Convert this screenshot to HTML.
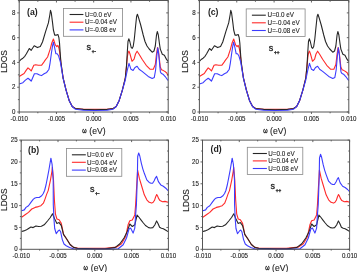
<!DOCTYPE html>
<html><head><meta charset="utf-8"><style>html,body{margin:0;padding:0;background:#fff;width:357px;height:272px;overflow:hidden}svg{display:block;will-change:transform}</style></head>
<body>
<svg width="357" height="272" viewBox="0 0 357 272">
<style>.t{font-family:"Liberation Sans", sans-serif;font-size:7px;fill:#222;stroke:#222;stroke-width:0.12px} .lg{font-family:"Liberation Sans", sans-serif;font-size:6.3px;fill:#222;stroke:#222;stroke-width:0.1px} .lb{font-family:"Liberation Sans", sans-serif;font-size:8px;fill:#222;stroke:#222;stroke-width:0.15px} .bl{font-family:"Liberation Sans", sans-serif;font-size:8.7px;font-weight:bold;fill:#222}</style>
<rect width="357" height="272" fill="#fff"/>
<polyline points="19.20,76.50 21.60,75.00 24.10,73.50 26.10,70.40 28.00,67.90 29.60,69.20 31.20,71.00 33.80,65.30 35.70,64.70 38.30,65.30 41.50,65.30 43.50,62.70 45.00,60.40 47.60,57.00 50.10,49.30 51.80,43.00 53.40,39.00 55.30,44.80 56.80,46.70 57.90,45.40 58.90,48.00 59.80,53.20 61.10,64.70 63.20,78.20 66.20,90.30 69.20,100.40 72.30,106.50 75.30,108.50 83.30,109.20 95.00,109.40 107.10,109.20 113.20,108.50 116.20,106.50 119.20,100.40 122.30,90.30 125.30,78.20 126.50,66.00 127.50,56.00 128.30,52.00 129.00,51.20 130.00,54.00 132.00,61.30 134.10,59.20 135.50,54.00 137.10,51.20 139.10,54.20 142.10,59.20 146.20,65.30 150.20,69.30 153.30,69.30 155.30,64.50 156.50,54.00 157.50,47.50 158.60,52.00 159.50,60.00 160.30,67.00 161.50,69.80 163.40,70.60 165.40,71.80 166.80,73.00 168.00,75.40" fill="none" stroke="#ff2a2a" stroke-width="1.1" stroke-linejoin="round"/>
<polyline points="19.20,61.50 20.90,59.50 22.90,58.20 24.80,56.30 26.40,53.80 29.30,48.50 31.20,50.30 34.20,45.80 37.40,47.60 40.30,46.50 42.50,42.00 45.50,31.80 48.40,22.90 49.90,14.50 50.50,10.30 51.30,13.00 52.60,23.10 53.40,30.00 54.70,35.10 56.60,35.10 57.90,34.50 58.90,37.70 59.50,42.90 60.40,55.70 60.90,62.00 63.10,78.20 66.10,90.30 69.10,100.40 72.20,106.50 75.20,108.50 83.30,109.40 95.00,109.70 107.10,109.40 113.20,108.50 116.20,106.50 119.20,100.40 122.30,90.30 125.30,78.20 126.50,66.00 127.30,52.00 128.00,41.50 128.80,38.80 129.80,41.50 131.20,47.50 132.20,48.30 133.20,46.50 134.30,39.00 135.50,27.00 136.60,16.50 137.40,14.30 138.40,17.20 140.70,25.00 143.20,35.00 145.00,41.50 147.00,46.00 149.20,49.00 152.20,52.20 154.00,51.00 155.30,46.00 156.50,35.00 157.30,31.50 158.30,35.00 159.50,44.00 160.30,49.10 162.30,54.20 164.40,55.20 166.40,59.20 168.00,61.30" fill="none" stroke="#262626" stroke-width="1.1" stroke-linejoin="round"/>
<polyline points="19.20,84.00 22.90,82.70 25.40,80.10 28.00,78.20 29.60,79.50 31.20,81.20 34.40,73.70 37.00,73.70 39.60,75.00 41.50,75.60 44.10,73.70 46.70,72.40 49.00,69.20 50.10,62.80 51.40,53.20 52.50,46.00 53.40,42.20 54.70,48.00 55.90,53.80 57.20,53.80 58.50,55.70 60.40,62.20 63.10,78.20 66.10,90.30 69.10,100.40 72.20,106.50 75.20,109.20 83.30,110.20 95.00,110.50 107.10,110.20 113.20,109.20 116.20,106.50 119.20,100.40 122.30,90.30 125.30,80.00 127.30,70.10 129.00,63.30 131.00,69.30 133.10,70.40 135.00,67.50 137.10,66.30 139.10,69.30 142.10,71.40 148.20,76.40 152.20,78.40 154.30,77.40 155.60,70.00 156.80,56.00 157.80,47.80 158.80,55.00 159.80,66.00 160.40,72.00 161.50,73.60 163.40,74.60 165.40,76.80 168.00,80.50" fill="none" stroke="#3c3cff" stroke-width="1.1" stroke-linejoin="round"/>
<polyline points="199.40,76.50 201.81,75.00 204.31,73.50 206.32,70.40 208.22,67.90 209.83,69.20 211.43,71.00 214.04,65.30 215.94,64.70 218.55,65.30 221.76,65.30 223.77,62.70 225.27,60.40 227.88,57.00 230.38,49.30 232.09,43.00 233.69,39.00 235.60,44.80 237.10,46.70 238.20,45.40 239.21,48.00 240.11,53.20 241.41,64.70 243.52,78.20 246.53,90.30 249.53,100.40 252.64,106.50 255.65,108.50 263.67,109.20 275.40,109.40 287.54,109.20 293.65,108.50 296.66,106.50 299.67,100.40 302.78,90.30 305.78,78.20 306.99,66.00 307.99,56.00 308.79,52.00 309.49,51.20 310.50,54.00 312.50,61.30 314.61,59.20 316.01,54.00 317.62,51.20 319.62,54.20 322.63,59.20 326.74,65.30 330.75,69.30 333.86,69.30 335.87,64.50 337.07,54.00 338.07,47.50 339.17,52.00 340.08,60.00 340.88,67.00 342.08,69.80 343.99,70.60 345.99,71.80 347.40,73.00 348.60,75.40" fill="none" stroke="#ff2a2a" stroke-width="1.1" stroke-linejoin="round"/>
<polyline points="199.40,61.50 201.10,59.50 203.11,58.20 205.02,56.30 206.62,53.80 209.53,48.50 211.43,50.30 214.44,45.80 217.65,47.60 220.56,46.50 222.76,42.00 225.77,31.80 228.68,22.90 230.18,14.50 230.78,10.30 231.59,13.00 232.89,23.10 233.69,30.00 235.00,35.10 236.90,35.10 238.20,34.50 239.21,37.70 239.81,42.90 240.71,55.70 241.21,62.00 243.42,78.20 246.43,90.30 249.43,100.40 252.54,106.50 255.55,108.50 263.67,109.40 275.40,109.70 287.54,109.40 293.65,108.50 296.66,106.50 299.67,100.40 302.78,90.30 305.78,78.20 306.99,66.00 307.79,52.00 308.49,41.50 309.29,38.80 310.30,41.50 311.70,47.50 312.70,48.30 313.71,46.50 314.81,39.00 316.01,27.00 317.12,16.50 317.92,14.30 318.92,17.20 321.23,25.00 323.73,35.00 325.54,41.50 327.54,46.00 329.75,49.00 332.76,52.20 334.56,51.00 335.87,46.00 337.07,35.00 337.87,31.50 338.87,35.00 340.08,44.00 340.88,49.10 342.88,54.20 344.99,55.20 347.00,59.20 348.60,61.30" fill="none" stroke="#262626" stroke-width="1.1" stroke-linejoin="round"/>
<polyline points="199.40,84.00 203.11,82.70 205.62,80.10 208.22,78.20 209.83,79.50 211.43,81.20 214.64,73.70 217.25,73.70 219.85,75.00 221.76,75.60 224.37,73.70 226.97,72.40 229.28,69.20 230.38,62.80 231.69,53.20 232.79,46.00 233.69,42.20 235.00,48.00 236.20,53.80 237.50,53.80 238.81,55.70 240.71,62.20 243.42,78.20 246.43,90.30 249.43,100.40 252.54,106.50 255.55,109.20 263.67,110.20 275.40,110.50 287.54,110.20 293.65,109.20 296.66,106.50 299.67,100.40 302.78,90.30 305.78,80.00 307.79,70.10 309.49,63.30 311.50,69.30 313.61,70.40 315.51,67.50 317.62,66.30 319.62,69.30 322.63,71.40 328.75,76.40 332.76,78.40 334.86,77.40 336.17,70.00 337.37,56.00 338.37,47.80 339.37,55.00 340.38,66.00 340.98,72.00 342.08,73.60 343.99,74.60 345.99,76.80 348.60,80.50" fill="none" stroke="#3c3cff" stroke-width="1.1" stroke-linejoin="round"/>
<polyline points="21.60,217.30 25.10,214.80 28.50,212.40 31.80,209.00 35.10,207.40 38.40,206.60 40.90,205.70 43.40,203.20 45.00,199.10 46.70,194.10 48.20,190.60 50.40,180.30 51.90,171.50 52.40,167.20 53.50,180.00 54.40,200.00 55.40,213.80 56.90,219.00 59.10,219.70 61.30,223.40 62.80,230.70 63.50,234.40 66.50,238.80 70.10,244.50 73.50,247.40 77.40,248.10 95.00,248.40 105.00,248.40 116.60,247.10 121.50,243.80 125.70,236.40 128.10,224.80 129.80,220.70 132.30,219.90 134.80,214.90 135.60,205.00 137.10,178.50 137.60,170.00 139.30,178.20 141.80,186.50 144.30,194.80 146.80,199.80 149.20,202.30 151.70,203.10 153.20,202.20 154.50,200.30 155.60,197.00 156.70,194.50 157.60,196.00 158.40,198.10 160.00,200.60 162.50,201.80 165.00,201.40 168.00,202.30" fill="none" stroke="#ff2a2a" stroke-width="1.1" stroke-linejoin="round"/>
<polyline points="21.60,231.50 23.80,230.90 26.00,230.10 28.20,228.70 30.90,227.00 33.10,227.60 35.90,226.00 38.60,226.50 41.40,226.30 44.20,224.80 47.50,221.00 50.30,217.50 52.50,213.80 54.70,219.00 56.90,223.40 59.10,222.60 61.30,225.60 63.50,234.40 66.50,238.80 70.10,244.50 73.50,247.40 77.40,248.40 95.00,248.90 105.00,248.90 114.90,247.60 119.90,243.80 124.00,238.00 127.30,231.40 129.80,224.00 132.30,226.50 134.80,224.80 137.10,215.00 139.20,217.50 141.30,220.30 143.40,223.00 145.50,225.50 148.60,227.60 150.70,228.00 152.80,227.60 154.80,225.00 156.60,220.90 158.00,223.50 159.60,227.20 161.40,228.20 163.30,228.70 165.50,230.00 168.00,231.60" fill="none" stroke="#262626" stroke-width="1.1" stroke-linejoin="round"/>
<polyline points="21.60,210.70 24.30,209.90 26.00,207.40 28.50,205.70 30.90,202.40 33.40,199.10 35.00,198.00 36.70,197.50 39.20,197.50 41.70,195.80 43.30,193.50 44.60,190.50 46.00,185.00 47.50,177.40 48.90,170.00 50.90,158.20 52.10,164.40 53.20,180.00 53.30,205.00 54.00,219.70 54.70,228.50 56.20,233.70 58.40,230.70 59.50,230.00 60.60,231.70 62.30,239.60 64.00,244.00 66.20,245.70 69.60,247.40 74.00,249.00 95.00,249.30 110.00,249.30 118.20,248.80 123.20,244.70 126.50,238.00 129.00,229.00 130.60,228.10 133.10,233.10 134.80,228.10 135.60,214.90 136.40,205.00 137.40,175.00 137.70,156.50 138.70,153.00 139.80,156.00 141.30,163.10 142.80,168.80 144.30,173.30 146.80,179.90 149.20,182.40 151.00,183.20 152.60,183.20 154.20,180.70 155.50,177.80 156.60,176.30 157.50,179.00 158.40,181.60 160.80,184.90 163.30,186.20 165.80,188.20 168.00,190.70" fill="none" stroke="#3c3cff" stroke-width="1.1" stroke-linejoin="round"/>
<polyline points="202.90,217.30 206.40,214.80 209.80,212.40 213.09,209.00 216.39,207.40 219.69,206.60 222.19,205.70 224.68,203.20 226.28,199.10 227.98,194.10 229.48,190.60 231.68,180.30 233.18,171.50 233.68,167.20 234.78,180.00 235.68,200.00 236.68,213.80 238.18,219.00 240.37,219.70 242.57,223.40 244.07,230.70 244.77,234.40 247.77,238.80 251.37,244.50 254.76,247.40 258.66,248.10 276.25,248.40 286.39,248.40 298.33,247.10 303.33,243.80 307.53,236.40 309.93,224.80 311.63,220.70 314.12,219.90 316.62,214.90 317.42,205.00 318.92,178.50 319.42,170.00 321.12,178.20 323.62,186.50 326.12,194.80 328.61,199.80 331.01,202.30 333.51,203.10 335.01,202.20 336.31,200.30 337.41,197.00 338.51,194.50 339.41,196.00 340.21,198.10 341.81,200.60 344.30,201.80 346.80,201.40 349.80,202.30" fill="none" stroke="#ff2a2a" stroke-width="1.1" stroke-linejoin="round"/>
<polyline points="202.90,231.50 205.10,230.90 207.30,230.10 209.50,228.70 212.19,227.00 214.39,227.60 217.19,226.00 219.89,226.50 222.69,226.30 225.48,224.80 228.78,221.00 231.58,217.50 233.78,213.80 235.98,219.00 238.18,223.40 240.37,222.60 242.57,225.60 244.77,234.40 247.77,238.80 251.37,244.50 254.76,247.40 258.66,248.40 276.25,248.90 286.39,248.90 296.58,247.60 301.73,243.80 305.83,238.00 309.13,231.40 311.63,224.00 314.12,226.50 316.62,224.80 318.92,215.00 321.02,217.50 323.12,220.30 325.22,223.00 327.32,225.50 330.41,227.60 332.51,228.00 334.61,227.60 336.61,225.00 338.41,220.90 339.81,223.50 341.41,227.20 343.20,228.20 345.10,228.70 347.30,230.00 349.80,231.60" fill="none" stroke="#262626" stroke-width="1.1" stroke-linejoin="round"/>
<polyline points="202.90,210.70 205.60,209.90 207.30,207.40 209.80,205.70 212.19,202.40 214.69,199.10 216.29,198.00 217.99,197.50 220.49,197.50 222.99,195.80 224.58,193.50 225.88,190.50 227.28,185.00 228.78,177.40 230.18,170.00 232.18,158.20 233.38,164.40 234.48,180.00 234.58,205.00 235.28,219.70 235.98,228.50 237.48,233.70 239.67,230.70 240.77,230.00 241.87,231.70 243.57,239.60 245.27,244.00 247.47,245.70 250.87,247.40 255.26,249.00 276.25,249.30 291.54,249.30 299.98,248.80 305.03,244.70 308.33,238.00 310.83,229.00 312.43,228.10 314.92,233.10 316.62,228.10 317.42,214.90 318.22,205.00 319.22,176.30 319.52,157.80 320.52,154.30 321.62,157.30 323.12,164.40 324.62,170.10 326.12,174.60 328.61,181.20 331.01,183.70 332.81,184.50 334.41,184.50 336.01,182.00 337.31,179.10 338.41,177.60 339.31,180.30 340.21,182.90 342.60,186.20 345.10,187.50 347.60,189.50 349.80,192.00" fill="none" stroke="#3c3cff" stroke-width="1.1" stroke-linejoin="round"/>
<rect x="19.2" y="0.5" width="149.0" height="111.5" fill="none" stroke="#555555" stroke-width="1.0"/>
<line x1="19.20" y1="112.0" x2="19.20" y2="114.0" stroke="#555555" stroke-width="0.9"/>
<line x1="19.20" y1="0.5" x2="19.20" y2="2.5" stroke="#555555" stroke-width="0.9"/>
<line x1="37.83" y1="112.0" x2="37.83" y2="113.3" stroke="#555555" stroke-width="0.9"/>
<line x1="37.83" y1="0.5" x2="37.83" y2="1.8" stroke="#555555" stroke-width="0.9"/>
<line x1="56.45" y1="112.0" x2="56.45" y2="114.0" stroke="#555555" stroke-width="0.9"/>
<line x1="56.45" y1="0.5" x2="56.45" y2="2.5" stroke="#555555" stroke-width="0.9"/>
<line x1="75.08" y1="112.0" x2="75.08" y2="113.3" stroke="#555555" stroke-width="0.9"/>
<line x1="75.08" y1="0.5" x2="75.08" y2="1.8" stroke="#555555" stroke-width="0.9"/>
<line x1="93.70" y1="112.0" x2="93.70" y2="114.0" stroke="#555555" stroke-width="0.9"/>
<line x1="93.70" y1="0.5" x2="93.70" y2="2.5" stroke="#555555" stroke-width="0.9"/>
<line x1="112.33" y1="112.0" x2="112.33" y2="113.3" stroke="#555555" stroke-width="0.9"/>
<line x1="112.33" y1="0.5" x2="112.33" y2="1.8" stroke="#555555" stroke-width="0.9"/>
<line x1="130.95" y1="112.0" x2="130.95" y2="114.0" stroke="#555555" stroke-width="0.9"/>
<line x1="130.95" y1="0.5" x2="130.95" y2="2.5" stroke="#555555" stroke-width="0.9"/>
<line x1="149.57" y1="112.0" x2="149.57" y2="113.3" stroke="#555555" stroke-width="0.9"/>
<line x1="149.57" y1="0.5" x2="149.57" y2="1.8" stroke="#555555" stroke-width="0.9"/>
<line x1="168.20" y1="112.0" x2="168.20" y2="114.0" stroke="#555555" stroke-width="0.9"/>
<line x1="168.20" y1="0.5" x2="168.20" y2="2.5" stroke="#555555" stroke-width="0.9"/>
<line x1="17.2" y1="112.00" x2="19.2" y2="112.00" stroke="#555555" stroke-width="0.9"/>
<line x1="166.2" y1="112.00" x2="168.2" y2="112.00" stroke="#555555" stroke-width="0.9"/>
<line x1="17.9" y1="99.61" x2="19.2" y2="99.61" stroke="#555555" stroke-width="0.9"/>
<line x1="166.89999999999998" y1="99.61" x2="168.2" y2="99.61" stroke="#555555" stroke-width="0.9"/>
<line x1="17.2" y1="87.22" x2="19.2" y2="87.22" stroke="#555555" stroke-width="0.9"/>
<line x1="166.2" y1="87.22" x2="168.2" y2="87.22" stroke="#555555" stroke-width="0.9"/>
<line x1="17.9" y1="74.83" x2="19.2" y2="74.83" stroke="#555555" stroke-width="0.9"/>
<line x1="166.89999999999998" y1="74.83" x2="168.2" y2="74.83" stroke="#555555" stroke-width="0.9"/>
<line x1="17.2" y1="62.44" x2="19.2" y2="62.44" stroke="#555555" stroke-width="0.9"/>
<line x1="166.2" y1="62.44" x2="168.2" y2="62.44" stroke="#555555" stroke-width="0.9"/>
<line x1="17.9" y1="50.06" x2="19.2" y2="50.06" stroke="#555555" stroke-width="0.9"/>
<line x1="166.89999999999998" y1="50.06" x2="168.2" y2="50.06" stroke="#555555" stroke-width="0.9"/>
<line x1="17.2" y1="37.67" x2="19.2" y2="37.67" stroke="#555555" stroke-width="0.9"/>
<line x1="166.2" y1="37.67" x2="168.2" y2="37.67" stroke="#555555" stroke-width="0.9"/>
<line x1="17.9" y1="25.28" x2="19.2" y2="25.28" stroke="#555555" stroke-width="0.9"/>
<line x1="166.89999999999998" y1="25.28" x2="168.2" y2="25.28" stroke="#555555" stroke-width="0.9"/>
<line x1="17.2" y1="12.89" x2="19.2" y2="12.89" stroke="#555555" stroke-width="0.9"/>
<line x1="166.2" y1="12.89" x2="168.2" y2="12.89" stroke="#555555" stroke-width="0.9"/>
<line x1="17.9" y1="0.50" x2="19.2" y2="0.50" stroke="#555555" stroke-width="0.9"/>
<line x1="166.89999999999998" y1="0.50" x2="168.2" y2="0.50" stroke="#555555" stroke-width="0.9"/>
<rect x="199.4" y="0.5" width="149.4" height="111.5" fill="none" stroke="#555555" stroke-width="1.0"/>
<line x1="199.40" y1="112.0" x2="199.40" y2="114.0" stroke="#555555" stroke-width="0.9"/>
<line x1="199.40" y1="0.5" x2="199.40" y2="2.5" stroke="#555555" stroke-width="0.9"/>
<line x1="218.08" y1="112.0" x2="218.08" y2="113.3" stroke="#555555" stroke-width="0.9"/>
<line x1="218.08" y1="0.5" x2="218.08" y2="1.8" stroke="#555555" stroke-width="0.9"/>
<line x1="236.75" y1="112.0" x2="236.75" y2="114.0" stroke="#555555" stroke-width="0.9"/>
<line x1="236.75" y1="0.5" x2="236.75" y2="2.5" stroke="#555555" stroke-width="0.9"/>
<line x1="255.43" y1="112.0" x2="255.43" y2="113.3" stroke="#555555" stroke-width="0.9"/>
<line x1="255.43" y1="0.5" x2="255.43" y2="1.8" stroke="#555555" stroke-width="0.9"/>
<line x1="274.10" y1="112.0" x2="274.10" y2="114.0" stroke="#555555" stroke-width="0.9"/>
<line x1="274.10" y1="0.5" x2="274.10" y2="2.5" stroke="#555555" stroke-width="0.9"/>
<line x1="292.77" y1="112.0" x2="292.77" y2="113.3" stroke="#555555" stroke-width="0.9"/>
<line x1="292.77" y1="0.5" x2="292.77" y2="1.8" stroke="#555555" stroke-width="0.9"/>
<line x1="311.45" y1="112.0" x2="311.45" y2="114.0" stroke="#555555" stroke-width="0.9"/>
<line x1="311.45" y1="0.5" x2="311.45" y2="2.5" stroke="#555555" stroke-width="0.9"/>
<line x1="330.12" y1="112.0" x2="330.12" y2="113.3" stroke="#555555" stroke-width="0.9"/>
<line x1="330.12" y1="0.5" x2="330.12" y2="1.8" stroke="#555555" stroke-width="0.9"/>
<line x1="348.80" y1="112.0" x2="348.80" y2="114.0" stroke="#555555" stroke-width="0.9"/>
<line x1="348.80" y1="0.5" x2="348.80" y2="2.5" stroke="#555555" stroke-width="0.9"/>
<line x1="197.4" y1="112.00" x2="199.4" y2="112.00" stroke="#555555" stroke-width="0.9"/>
<line x1="346.8" y1="112.00" x2="348.8" y2="112.00" stroke="#555555" stroke-width="0.9"/>
<line x1="198.1" y1="99.61" x2="199.4" y2="99.61" stroke="#555555" stroke-width="0.9"/>
<line x1="347.5" y1="99.61" x2="348.8" y2="99.61" stroke="#555555" stroke-width="0.9"/>
<line x1="197.4" y1="87.22" x2="199.4" y2="87.22" stroke="#555555" stroke-width="0.9"/>
<line x1="346.8" y1="87.22" x2="348.8" y2="87.22" stroke="#555555" stroke-width="0.9"/>
<line x1="198.1" y1="74.83" x2="199.4" y2="74.83" stroke="#555555" stroke-width="0.9"/>
<line x1="347.5" y1="74.83" x2="348.8" y2="74.83" stroke="#555555" stroke-width="0.9"/>
<line x1="197.4" y1="62.44" x2="199.4" y2="62.44" stroke="#555555" stroke-width="0.9"/>
<line x1="346.8" y1="62.44" x2="348.8" y2="62.44" stroke="#555555" stroke-width="0.9"/>
<line x1="198.1" y1="50.06" x2="199.4" y2="50.06" stroke="#555555" stroke-width="0.9"/>
<line x1="347.5" y1="50.06" x2="348.8" y2="50.06" stroke="#555555" stroke-width="0.9"/>
<line x1="197.4" y1="37.67" x2="199.4" y2="37.67" stroke="#555555" stroke-width="0.9"/>
<line x1="346.8" y1="37.67" x2="348.8" y2="37.67" stroke="#555555" stroke-width="0.9"/>
<line x1="198.1" y1="25.28" x2="199.4" y2="25.28" stroke="#555555" stroke-width="0.9"/>
<line x1="347.5" y1="25.28" x2="348.8" y2="25.28" stroke="#555555" stroke-width="0.9"/>
<line x1="197.4" y1="12.89" x2="199.4" y2="12.89" stroke="#555555" stroke-width="0.9"/>
<line x1="346.8" y1="12.89" x2="348.8" y2="12.89" stroke="#555555" stroke-width="0.9"/>
<line x1="198.1" y1="0.50" x2="199.4" y2="0.50" stroke="#555555" stroke-width="0.9"/>
<line x1="347.5" y1="0.50" x2="348.8" y2="0.50" stroke="#555555" stroke-width="0.9"/>
<rect x="21.2" y="140.1" width="147.20000000000002" height="109.20000000000002" fill="none" stroke="#555555" stroke-width="1.0"/>
<line x1="21.20" y1="249.3" x2="21.20" y2="251.3" stroke="#555555" stroke-width="0.9"/>
<line x1="21.20" y1="140.1" x2="21.20" y2="142.1" stroke="#555555" stroke-width="0.9"/>
<line x1="39.60" y1="249.3" x2="39.60" y2="250.60000000000002" stroke="#555555" stroke-width="0.9"/>
<line x1="39.60" y1="140.1" x2="39.60" y2="141.4" stroke="#555555" stroke-width="0.9"/>
<line x1="58.00" y1="249.3" x2="58.00" y2="251.3" stroke="#555555" stroke-width="0.9"/>
<line x1="58.00" y1="140.1" x2="58.00" y2="142.1" stroke="#555555" stroke-width="0.9"/>
<line x1="76.40" y1="249.3" x2="76.40" y2="250.60000000000002" stroke="#555555" stroke-width="0.9"/>
<line x1="76.40" y1="140.1" x2="76.40" y2="141.4" stroke="#555555" stroke-width="0.9"/>
<line x1="94.80" y1="249.3" x2="94.80" y2="251.3" stroke="#555555" stroke-width="0.9"/>
<line x1="94.80" y1="140.1" x2="94.80" y2="142.1" stroke="#555555" stroke-width="0.9"/>
<line x1="113.20" y1="249.3" x2="113.20" y2="250.60000000000002" stroke="#555555" stroke-width="0.9"/>
<line x1="113.20" y1="140.1" x2="113.20" y2="141.4" stroke="#555555" stroke-width="0.9"/>
<line x1="131.60" y1="249.3" x2="131.60" y2="251.3" stroke="#555555" stroke-width="0.9"/>
<line x1="131.60" y1="140.1" x2="131.60" y2="142.1" stroke="#555555" stroke-width="0.9"/>
<line x1="150.00" y1="249.3" x2="150.00" y2="250.60000000000002" stroke="#555555" stroke-width="0.9"/>
<line x1="150.00" y1="140.1" x2="150.00" y2="141.4" stroke="#555555" stroke-width="0.9"/>
<line x1="168.40" y1="249.3" x2="168.40" y2="251.3" stroke="#555555" stroke-width="0.9"/>
<line x1="168.40" y1="140.1" x2="168.40" y2="142.1" stroke="#555555" stroke-width="0.9"/>
<line x1="19.2" y1="249.30" x2="21.2" y2="249.30" stroke="#555555" stroke-width="0.9"/>
<line x1="166.4" y1="249.30" x2="168.4" y2="249.30" stroke="#555555" stroke-width="0.9"/>
<line x1="19.9" y1="238.38" x2="21.2" y2="238.38" stroke="#555555" stroke-width="0.9"/>
<line x1="167.1" y1="238.38" x2="168.4" y2="238.38" stroke="#555555" stroke-width="0.9"/>
<line x1="19.2" y1="227.46" x2="21.2" y2="227.46" stroke="#555555" stroke-width="0.9"/>
<line x1="166.4" y1="227.46" x2="168.4" y2="227.46" stroke="#555555" stroke-width="0.9"/>
<line x1="19.9" y1="216.54" x2="21.2" y2="216.54" stroke="#555555" stroke-width="0.9"/>
<line x1="167.1" y1="216.54" x2="168.4" y2="216.54" stroke="#555555" stroke-width="0.9"/>
<line x1="19.2" y1="205.62" x2="21.2" y2="205.62" stroke="#555555" stroke-width="0.9"/>
<line x1="166.4" y1="205.62" x2="168.4" y2="205.62" stroke="#555555" stroke-width="0.9"/>
<line x1="19.9" y1="194.70" x2="21.2" y2="194.70" stroke="#555555" stroke-width="0.9"/>
<line x1="167.1" y1="194.70" x2="168.4" y2="194.70" stroke="#555555" stroke-width="0.9"/>
<line x1="19.2" y1="183.78" x2="21.2" y2="183.78" stroke="#555555" stroke-width="0.9"/>
<line x1="166.4" y1="183.78" x2="168.4" y2="183.78" stroke="#555555" stroke-width="0.9"/>
<line x1="19.9" y1="172.86" x2="21.2" y2="172.86" stroke="#555555" stroke-width="0.9"/>
<line x1="167.1" y1="172.86" x2="168.4" y2="172.86" stroke="#555555" stroke-width="0.9"/>
<line x1="19.2" y1="161.94" x2="21.2" y2="161.94" stroke="#555555" stroke-width="0.9"/>
<line x1="166.4" y1="161.94" x2="168.4" y2="161.94" stroke="#555555" stroke-width="0.9"/>
<line x1="19.9" y1="151.02" x2="21.2" y2="151.02" stroke="#555555" stroke-width="0.9"/>
<line x1="167.1" y1="151.02" x2="168.4" y2="151.02" stroke="#555555" stroke-width="0.9"/>
<line x1="19.2" y1="140.10" x2="21.2" y2="140.10" stroke="#555555" stroke-width="0.9"/>
<line x1="166.4" y1="140.10" x2="168.4" y2="140.10" stroke="#555555" stroke-width="0.9"/>
<rect x="202.5" y="140.1" width="147.10000000000002" height="109.20000000000002" fill="none" stroke="#555555" stroke-width="1.0"/>
<line x1="202.50" y1="249.3" x2="202.50" y2="251.3" stroke="#555555" stroke-width="0.9"/>
<line x1="202.50" y1="140.1" x2="202.50" y2="142.1" stroke="#555555" stroke-width="0.9"/>
<line x1="220.89" y1="249.3" x2="220.89" y2="250.60000000000002" stroke="#555555" stroke-width="0.9"/>
<line x1="220.89" y1="140.1" x2="220.89" y2="141.4" stroke="#555555" stroke-width="0.9"/>
<line x1="239.28" y1="249.3" x2="239.28" y2="251.3" stroke="#555555" stroke-width="0.9"/>
<line x1="239.28" y1="140.1" x2="239.28" y2="142.1" stroke="#555555" stroke-width="0.9"/>
<line x1="257.66" y1="249.3" x2="257.66" y2="250.60000000000002" stroke="#555555" stroke-width="0.9"/>
<line x1="257.66" y1="140.1" x2="257.66" y2="141.4" stroke="#555555" stroke-width="0.9"/>
<line x1="276.05" y1="249.3" x2="276.05" y2="251.3" stroke="#555555" stroke-width="0.9"/>
<line x1="276.05" y1="140.1" x2="276.05" y2="142.1" stroke="#555555" stroke-width="0.9"/>
<line x1="294.44" y1="249.3" x2="294.44" y2="250.60000000000002" stroke="#555555" stroke-width="0.9"/>
<line x1="294.44" y1="140.1" x2="294.44" y2="141.4" stroke="#555555" stroke-width="0.9"/>
<line x1="312.83" y1="249.3" x2="312.83" y2="251.3" stroke="#555555" stroke-width="0.9"/>
<line x1="312.83" y1="140.1" x2="312.83" y2="142.1" stroke="#555555" stroke-width="0.9"/>
<line x1="331.21" y1="249.3" x2="331.21" y2="250.60000000000002" stroke="#555555" stroke-width="0.9"/>
<line x1="331.21" y1="140.1" x2="331.21" y2="141.4" stroke="#555555" stroke-width="0.9"/>
<line x1="349.60" y1="249.3" x2="349.60" y2="251.3" stroke="#555555" stroke-width="0.9"/>
<line x1="349.60" y1="140.1" x2="349.60" y2="142.1" stroke="#555555" stroke-width="0.9"/>
<line x1="200.5" y1="249.30" x2="202.5" y2="249.30" stroke="#555555" stroke-width="0.9"/>
<line x1="347.6" y1="249.30" x2="349.6" y2="249.30" stroke="#555555" stroke-width="0.9"/>
<line x1="201.2" y1="238.38" x2="202.5" y2="238.38" stroke="#555555" stroke-width="0.9"/>
<line x1="348.3" y1="238.38" x2="349.6" y2="238.38" stroke="#555555" stroke-width="0.9"/>
<line x1="200.5" y1="227.46" x2="202.5" y2="227.46" stroke="#555555" stroke-width="0.9"/>
<line x1="347.6" y1="227.46" x2="349.6" y2="227.46" stroke="#555555" stroke-width="0.9"/>
<line x1="201.2" y1="216.54" x2="202.5" y2="216.54" stroke="#555555" stroke-width="0.9"/>
<line x1="348.3" y1="216.54" x2="349.6" y2="216.54" stroke="#555555" stroke-width="0.9"/>
<line x1="200.5" y1="205.62" x2="202.5" y2="205.62" stroke="#555555" stroke-width="0.9"/>
<line x1="347.6" y1="205.62" x2="349.6" y2="205.62" stroke="#555555" stroke-width="0.9"/>
<line x1="201.2" y1="194.70" x2="202.5" y2="194.70" stroke="#555555" stroke-width="0.9"/>
<line x1="348.3" y1="194.70" x2="349.6" y2="194.70" stroke="#555555" stroke-width="0.9"/>
<line x1="200.5" y1="183.78" x2="202.5" y2="183.78" stroke="#555555" stroke-width="0.9"/>
<line x1="347.6" y1="183.78" x2="349.6" y2="183.78" stroke="#555555" stroke-width="0.9"/>
<line x1="201.2" y1="172.86" x2="202.5" y2="172.86" stroke="#555555" stroke-width="0.9"/>
<line x1="348.3" y1="172.86" x2="349.6" y2="172.86" stroke="#555555" stroke-width="0.9"/>
<line x1="200.5" y1="161.94" x2="202.5" y2="161.94" stroke="#555555" stroke-width="0.9"/>
<line x1="347.6" y1="161.94" x2="349.6" y2="161.94" stroke="#555555" stroke-width="0.9"/>
<line x1="201.2" y1="151.02" x2="202.5" y2="151.02" stroke="#555555" stroke-width="0.9"/>
<line x1="348.3" y1="151.02" x2="349.6" y2="151.02" stroke="#555555" stroke-width="0.9"/>
<line x1="200.5" y1="140.10" x2="202.5" y2="140.10" stroke="#555555" stroke-width="0.9"/>
<line x1="347.6" y1="140.10" x2="349.6" y2="140.10" stroke="#555555" stroke-width="0.9"/>
<text transform="translate(15.5,114.10) scale(0.88,1)" text-anchor="end" class="t">0</text>
<text transform="translate(15.5,89.32) scale(0.88,1)" text-anchor="end" class="t">2</text>
<text transform="translate(15.5,64.54) scale(0.88,1)" text-anchor="end" class="t">4</text>
<text transform="translate(15.5,39.77) scale(0.88,1)" text-anchor="end" class="t">6</text>
<text transform="translate(15.5,14.99) scale(0.88,1)" text-anchor="end" class="t">8</text>
<text transform="translate(195.7,114.10) scale(0.88,1)" text-anchor="end" class="t">0</text>
<text transform="translate(195.7,89.32) scale(0.88,1)" text-anchor="end" class="t">2</text>
<text transform="translate(195.7,64.54) scale(0.88,1)" text-anchor="end" class="t">4</text>
<text transform="translate(195.7,39.77) scale(0.88,1)" text-anchor="end" class="t">6</text>
<text transform="translate(195.7,14.99) scale(0.88,1)" text-anchor="end" class="t">8</text>
<text transform="translate(17.7,251.40) scale(0.88,1)" text-anchor="end" class="t">0</text>
<text transform="translate(17.7,229.56) scale(0.88,1)" text-anchor="end" class="t">5</text>
<text transform="translate(17.7,207.72) scale(0.88,1)" text-anchor="end" class="t">10</text>
<text transform="translate(17.7,185.88) scale(0.88,1)" text-anchor="end" class="t">15</text>
<text transform="translate(17.7,164.04) scale(0.88,1)" text-anchor="end" class="t">20</text>
<text transform="translate(17.7,142.20) scale(0.88,1)" text-anchor="end" class="t">25</text>
<text transform="translate(198.9,251.40) scale(0.88,1)" text-anchor="end" class="t">0</text>
<text transform="translate(198.9,229.56) scale(0.88,1)" text-anchor="end" class="t">5</text>
<text transform="translate(198.9,207.72) scale(0.88,1)" text-anchor="end" class="t">10</text>
<text transform="translate(198.9,185.88) scale(0.88,1)" text-anchor="end" class="t">15</text>
<text transform="translate(198.9,164.04) scale(0.88,1)" text-anchor="end" class="t">20</text>
<text transform="translate(198.9,142.20) scale(0.88,1)" text-anchor="end" class="t">25</text>
<text transform="translate(19.20,120.5) scale(0.88,1)" text-anchor="middle" class="t">-0.010</text>
<text transform="translate(56.45,120.5) scale(0.88,1)" text-anchor="middle" class="t">-0.005</text>
<text transform="translate(93.70,120.5) scale(0.88,1)" text-anchor="middle" class="t">0.000</text>
<text transform="translate(130.95,120.5) scale(0.88,1)" text-anchor="middle" class="t">0.005</text>
<text transform="translate(168.20,120.5) scale(0.88,1)" text-anchor="middle" class="t">0.010</text>
<text transform="translate(199.40,120.5) scale(0.88,1)" text-anchor="middle" class="t">-0.010</text>
<text transform="translate(236.75,120.5) scale(0.88,1)" text-anchor="middle" class="t">-0.005</text>
<text transform="translate(274.10,120.5) scale(0.88,1)" text-anchor="middle" class="t">0.000</text>
<text transform="translate(311.45,120.5) scale(0.88,1)" text-anchor="middle" class="t">0.005</text>
<text transform="translate(348.80,120.5) scale(0.88,1)" text-anchor="middle" class="t">0.010</text>
<text transform="translate(21.20,257.9) scale(0.88,1)" text-anchor="middle" class="t">-0.010</text>
<text transform="translate(58.00,257.9) scale(0.88,1)" text-anchor="middle" class="t">-0.005</text>
<text transform="translate(94.80,257.9) scale(0.88,1)" text-anchor="middle" class="t">0.000</text>
<text transform="translate(131.60,257.9) scale(0.88,1)" text-anchor="middle" class="t">0.005</text>
<text transform="translate(168.40,257.9) scale(0.88,1)" text-anchor="middle" class="t">0.010</text>
<text transform="translate(202.50,257.9) scale(0.88,1)" text-anchor="middle" class="t">-0.010</text>
<text transform="translate(239.28,257.9) scale(0.88,1)" text-anchor="middle" class="t">-0.005</text>
<text transform="translate(276.05,257.9) scale(0.88,1)" text-anchor="middle" class="t">0.000</text>
<text transform="translate(312.83,257.9) scale(0.88,1)" text-anchor="middle" class="t">0.005</text>
<text transform="translate(349.60,257.9) scale(0.88,1)" text-anchor="middle" class="t">0.010</text>
<text transform="translate(82.14999999999999,133.4) scale(0.9,1.15)" class="lb" style="font-size:6.2px;stroke:#222;stroke-width:0.3px">ω</text><text x="89.30000000000001" y="133.7" class="lb" style="font-size:8.6px;stroke:#222;stroke-width:0.12px">(eV)</text>
<text transform="translate(263.15000000000003,133.4) scale(0.9,1.15)" class="lb" style="font-size:6.2px;stroke:#222;stroke-width:0.3px">ω</text><text x="270.09999999999997" y="133.7" class="lb" style="font-size:8.6px;stroke:#222;stroke-width:0.12px">(eV)</text>
<text transform="translate(83.55,270.3) scale(0.9,1.15)" class="lb" style="font-size:6.2px;stroke:#222;stroke-width:0.3px">ω</text><text x="90.80000000000001" y="270.6" class="lb" style="font-size:8.6px;stroke:#222;stroke-width:0.12px">(eV)</text>
<text transform="translate(265.15000000000003,270.3) scale(0.9,1.15)" class="lb" style="font-size:6.2px;stroke:#222;stroke-width:0.3px">ω</text><text x="272.09999999999997" y="270.6" class="lb" style="font-size:8.6px;stroke:#222;stroke-width:0.12px">(eV)</text>
<text x="7.1" y="61.5" transform="rotate(-90 7.1 61.5)" text-anchor="middle" class="lb" style="font-size:8.3px">LDOS</text>
<text x="188.1" y="61.5" transform="rotate(-90 188.1 61.5)" text-anchor="middle" class="lb" style="font-size:8.3px">LDOS</text>
<text x="7.3" y="199.7" transform="rotate(-90 7.3 199.7)" text-anchor="middle" class="lb" style="font-size:8.3px">LDOS</text>
<text x="188.7" y="200.4" transform="rotate(-90 188.7 200.4)" text-anchor="middle" class="lb" style="font-size:8.3px">LDOS</text>
<rect x="63.5" y="8.4" width="59.099999999999994" height="27.9" fill="#fff" stroke="#888" stroke-width="0.8"/>
<line x1="69.6" y1="14.5" x2="83.4" y2="14.5" stroke="#262626" stroke-width="1.1"/>
<text x="85.0" y="16.70" class="lg">U=0.0 eV</text>
<line x1="69.6" y1="22.2" x2="83.4" y2="22.2" stroke="#ff2a2a" stroke-width="1.1"/>
<text x="85.0" y="24.40" class="lg">U=-0.04 eV</text>
<line x1="69.6" y1="29.9" x2="83.4" y2="29.9" stroke="#3c3cff" stroke-width="1.1"/>
<text x="85.0" y="32.10" class="lg">U=-0.08 ev</text>
<rect x="246.2" y="8.9" width="58.900000000000034" height="27.5" fill="#fff" stroke="#888" stroke-width="0.8"/>
<line x1="251.9" y1="15.2" x2="265.8" y2="15.2" stroke="#262626" stroke-width="1.1"/>
<text x="267.6" y="17.40" class="lg">U=0.0 eV</text>
<line x1="251.9" y1="22.8" x2="265.8" y2="22.8" stroke="#ff2a2a" stroke-width="1.1"/>
<text x="267.6" y="25.00" class="lg">U=-0.04 eV</text>
<line x1="251.9" y1="30.5" x2="265.8" y2="30.5" stroke="#3c3cff" stroke-width="1.1"/>
<text x="267.6" y="32.70" class="lg">U=-0.08 eV</text>
<rect x="66.4" y="148.5" width="55.39999999999999" height="27.80000000000001" fill="#fff" stroke="#888" stroke-width="0.8"/>
<line x1="71.9" y1="154.8" x2="85.8" y2="154.8" stroke="#262626" stroke-width="1.1"/>
<text x="87.0" y="157.00" class="lg">U=0.0 eV</text>
<line x1="71.9" y1="162.3" x2="85.8" y2="162.3" stroke="#ff2a2a" stroke-width="1.1"/>
<text x="87.0" y="164.50" class="lg">U=0.04 eV</text>
<line x1="71.9" y1="170.1" x2="85.8" y2="170.1" stroke="#3c3cff" stroke-width="1.1"/>
<text x="87.0" y="172.30" class="lg">U=0.08 eV</text>
<rect x="247.3" y="147.3" width="55.5" height="27.099999999999994" fill="#fff" stroke="#888" stroke-width="0.8"/>
<line x1="252.8" y1="153.5" x2="266.9" y2="153.5" stroke="#262626" stroke-width="1.1"/>
<text x="268.3" y="155.70" class="lg">U=0.0 eV</text>
<line x1="252.8" y1="160.9" x2="266.9" y2="160.9" stroke="#ff2a2a" stroke-width="1.1"/>
<text x="268.3" y="163.10" class="lg">U=0.04 eV</text>
<line x1="252.8" y1="168.5" x2="266.9" y2="168.5" stroke="#3c3cff" stroke-width="1.1"/>
<text x="268.3" y="170.70" class="lg">U=0.08 eV</text>
<text x="27.0" y="15.2" class="bl">(a)</text>
<text x="207.9" y="14.9" class="bl">(c)</text>
<text x="28.0" y="153.4" class="bl">(b)</text>
<text x="210.5" y="152.1" class="bl">(d)</text>
<text x="86.5" y="49.6" class="lb" style="font-size:9px;stroke-width:0.3px">s</text><text x="91.80000000000001" y="52.5" style="font-family:&quot;Liberation Sans&quot;,sans-serif;font-size:4.6px;font-weight:bold;fill:#111;stroke:#111;stroke-width:0.25px">+-</text>
<text x="90.0" y="191.6" class="lb" style="font-size:9px;stroke-width:0.3px">s</text><text x="95.30000000000001" y="194.5" style="font-family:&quot;Liberation Sans&quot;,sans-serif;font-size:4.6px;font-weight:bold;fill:#111;stroke:#111;stroke-width:0.25px">+-</text>
<text x="268.70000000000005" y="50.8" class="lb" style="font-size:9px;stroke-width:0.3px">s</text><text x="274.0" y="53.699999999999996" style="font-family:&quot;Liberation Sans&quot;,sans-serif;font-size:4.6px;font-weight:bold;fill:#111;stroke:#111;stroke-width:0.25px">++</text>
<text x="270.5" y="188.7" class="lb" style="font-size:9px;stroke-width:0.3px">s</text><text x="275.79999999999995" y="191.6" style="font-family:&quot;Liberation Sans&quot;,sans-serif;font-size:4.6px;font-weight:bold;fill:#111;stroke:#111;stroke-width:0.25px">++</text>
</svg>
</body></html>
